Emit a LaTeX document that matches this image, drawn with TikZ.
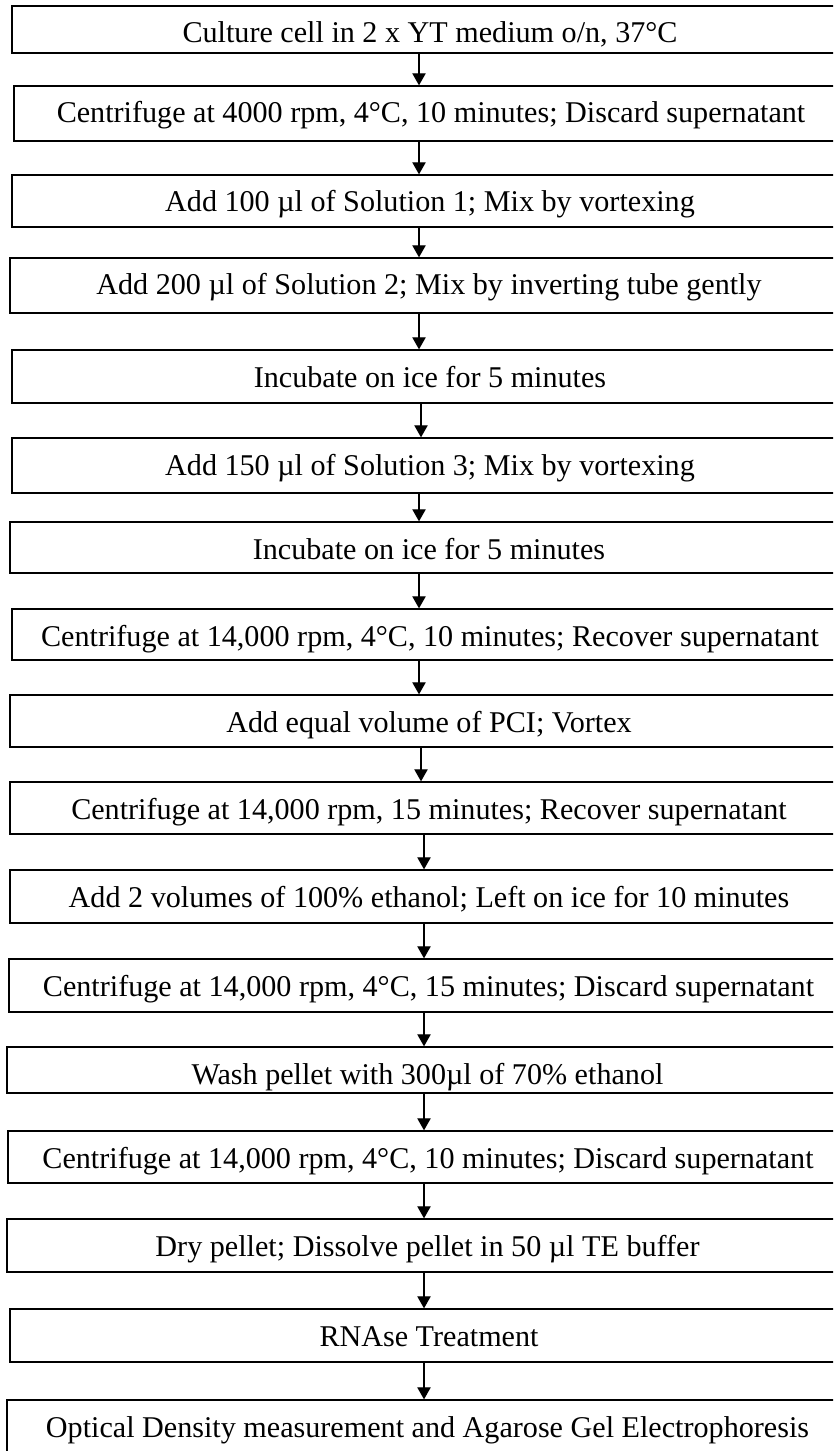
\documentclass[tikz,border=0pt]{standalone}
\usepackage{fontspec}
\setmainfont{Liberation Serif}
\usetikzlibrary{arrows.meta}
\tikzset{
  procbox/.style={draw=black, line width=1pt, rectangle, inner sep=0pt, fill=white},
  proctext/.style={anchor=base, inner sep=0pt, font=\fontsize{22.6}{27}\selectfont},
  flowarr/.style={draw=black, line width=0.8pt, -{Triangle[width=10pt,length=9pt]}},
}
\newcommand\flowbox[5]{%
  \node[procbox, minimum width={(848-#2)*0.75pt}, minimum height={(#4-#3)*0.75pt}] (#1) at ({(#2+848)/2},{(#3+#4)/2}) {};
  \node[proctext] (#1t) at ({(#2+848)/2},{#3+37}) {#5};
}
\newcommand\flowlink[3]{%
  \coordinate (#1x) at (#3,0);
  \draw[flowarr] (#1.south -| #1x) -- (#2.north -| #1x);
}
\begin{document}
\begin{tikzpicture}[x=0.75pt,y=-0.75pt]
\useasboundingbox (0,0) rectangle (833,1451);
\clip (0,0) rectangle (833,1451);
\fill[white] (0,0) rectangle (833,1451);
\flowbox{b1}{12}{6}{53}{Culture cell in 2 x YT medium o/n, 37°C}
\flowbox{b2}{14}{86}{141}{Centrifuge at 4000 rpm, 4°C, 10 minutes; Discard supernatant}
\flowbox{b3}{12}{175}{227}{Add 100 µl of Solution 1; Mix by vortexing}
\flowbox{b4}{10}{258}{313}{Add 200 µl of Solution 2; Mix by inverting tube gently}
\flowbox{b5}{12}{350}{403}{Incubate on ice for 5 minutes}
\flowbox{b6}{12}{438}{493}{Add 150 µl of Solution 3; Mix by vortexing}
\flowbox{b7}{10}{522}{573}{Incubate on ice for 5 minutes}
\flowbox{b8}{12}{609}{660}{Centrifuge at 14,000 rpm, 4°C, 10 minutes; Recover supernatant}
\flowbox{b9}{10}{695}{747}{Add equal volume of PCI; Vortex}
\flowbox{b10}{10}{782}{834}{Centrifuge at 14,000 rpm, 15 minutes; Recover supernatant}
\flowbox{b11}{10}{870}{923}{Add 2 volumes of 100\% ethanol; Left on ice for 10 minutes}
\flowbox{b12}{9}{959}{1012}{Centrifuge at 14,000 rpm, 4°C, 15 minutes; Discard supernatant}
\flowbox{b13}{7}{1047}{1093}{Wash pellet with 300µl of 70\% ethanol}
\flowbox{b14}{8}{1131}{1183}{Centrifuge at 14,000 rpm, 4°C, 10 minutes; Discard supernatant}
\flowbox{b15}{7}{1219}{1272}{Dry pellet; Dissolve pellet in 50 µl TE buffer}
\flowbox{b16}{10}{1309}{1362}{RNAse Treatment}
\flowbox{b17}{7}{1400}{1455}{Optical Density measurement and Agarose Gel Electrophoresis}
\flowlink{b1}{b2}{419}
\flowlink{b2}{b3}{419}
\flowlink{b3}{b4}{419}
\flowlink{b4}{b5}{419}
\flowlink{b5}{b6}{421}
\flowlink{b6}{b7}{419}
\flowlink{b7}{b8}{419}
\flowlink{b8}{b9}{419}
\flowlink{b9}{b10}{421}
\flowlink{b10}{b11}{424}
\flowlink{b11}{b12}{424}
\flowlink{b12}{b13}{424}
\flowlink{b13}{b14}{424}
\flowlink{b14}{b15}{424}
\flowlink{b15}{b16}{424}
\flowlink{b16}{b17}{424}
\end{tikzpicture}
\end{document}
